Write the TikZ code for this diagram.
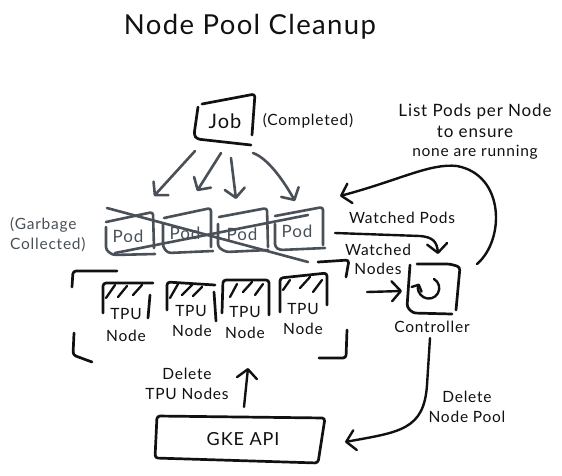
\documentclass[tikz,border=0pt]{standalone}
\usepackage{fontspec}
\setmainfont[LetterSpace=5]{Lato}
\usetikzlibrary{arrows.meta}
\definecolor{ink}{HTML}{111111}
\definecolor{slate}{HTML}{495057}
\tikzset{
  sk/.style={draw=ink,line width=2.7pt,line cap=round,line join=round,rounded corners=3pt},
  hatch/.style={draw=ink,line width=2.3pt,line cap=round},
  skgray/.style={draw=slate,line width=2.6pt,line cap=round,line join=round,rounded corners=3pt},
  arr/.style={draw=ink,line width=2.4pt,line cap=round,line join=round,-{Straight Barb[round,length=9pt,width=20pt,line width=2.4pt]}},
  arrgray/.style={draw=slate,line width=2.6pt,line cap=round,line join=round,-{Straight Barb[round,length=9pt,width=20pt,line width=2.6pt]}},
  lab/.style={text=ink,font=\fontsize{15.5}{15.5}\selectfont,inner sep=0pt,align=center},
  labgray/.style={lab,text=slate},
  lablarge/.style={lab,font=\fontsize{17}{17}\selectfont},
}
\begin{document}
\begin{tikzpicture}[x=1pt,y=-1pt]
\useasboundingbox (0,0) rectangle (562,475);
\fill[white] (0,0) rectangle (562,475);
% title
\node[lab,font=\fontsize{27.5}{27.5}\selectfont] (title) at (250,27) {Node Pool Cleanup};
% job
\node[lab,font=\fontsize{20}{20}\selectfont] (job) at (225,121) {Job};
\draw[sk] (202,104) -- (255,94) -- (252,135);
\draw[sk] (198,107) -- (194,135) -- (197,139) -- (251,145);
\node[lab] (completed) at (308,121) {(Completed)};
\coordinate (jobA) at (195,151); \coordinate (jobB) at (221,153);
\coordinate (jobC) at (231,158); \coordinate (jobD) at (253,153);
\coordinate (podA) at (154,196); \coordinate (podB) at (197,191);
\coordinate (podC) at (236,199); \coordinate (podD) at (295,201);
\draw[arrgray] (jobA) -- (podA);
\draw[arrgray] (jobB) -- (podB);
\draw[arrgray] (jobC) -- (podC);
\draw[arrgray] (jobD) .. controls (267,158) and (282,178) .. (podD);
% pods
\node[labgray,font=\fontsize{17}{17}\selectfont] (pod1) at (128,236) {Pod};
\node[labgray,font=\fontsize{17}{17}\selectfont] (pod2) at (185,233) {Pod};
\node[labgray,font=\fontsize{17}{17}\selectfont] (pod3) at (242,234) {Pod};
\node[labgray,font=\fontsize{17}{17}\selectfont] (pod4) at (297,231) {Pod};
\draw[skgray] (106,222) -- (153,212) -- (154,248);
\draw[skgray] (106,227) -- (106,250) -- (113,255) -- (155,254);
\draw[skgray] (164,218) -- (211,208) -- (211,247);
\draw[skgray] (163,224) -- (163,247) -- (168,253) -- (213,251);
\draw[skgray] (219,217) -- (267,208) -- (268,247);
\draw[skgray] (218,224) -- (218,247) -- (226,252) -- (268,250);
\draw[skgray] (275,216) -- (323,207) -- (323,245);
\draw[skgray] (275,224) -- (275,247) -- (280,250) -- (325,248);
\coordinate (crossA) at (107,208); \coordinate (crossB) at (308,262);
\coordinate (crossC) at (115,253); \coordinate (crossD) at (308,215);
\draw[skgray,rounded corners=0pt] (crossA) -- (crossB);
\draw[skgray,rounded corners=0pt] (crossC) -- (crossD);
\node[labgray,align=left,anchor=west] (garbage) at (10,234.5) {(Garbage\\[4pt]Collected)};
% outer brackets
\draw[sk] (72,287) -- (73,271) -- (117,271);
\draw[sk] (318,262) -- (349,260) -- (346,277);
\draw[sk] (74,333) -- (73,355) -- (92,362);
\draw[sk] (347,330) -- (346,358) -- (319,358);
% tpu nodes
\draw[sk] (103,313) -- (103,283) -- (153,283);
\draw[sk] (150,295) -- (148,318);
\draw[hatch] (106,298) -- (115,285) (118,297) -- (127,286) (133,295) -- (142,285);
\node[lab] (tpu1) at (126,314) {TPU};
\node[lab] (nd1) at (126,336) {Node};
\draw[sk] (167,310) -- (167,282) -- (215,285);
\draw[sk] (214,292) -- (216,321);
\draw[hatch] (170,298) -- (178,284) (182,295) -- (192,285) (193,296) -- (202,287);
\node[lab] (tpu2) at (191,311) {TPU};
\node[lab] (nd2) at (192,331) {Node};
\draw[sk] (222,313) -- (223,280) -- (269,280) -- (269,315);
\draw[hatch] (230,297) -- (237,284) (243,292) -- (252,282) (255,295) -- (263,284);
\node[lab] (tpu3) at (245,312) {TPU};
\node[lab] (nd3) at (245,333) {Node};
\draw[sk] (280,312) -- (280,278) -- (327,273) -- (327,305);
\draw[hatch] (283,290) -- (290,280) (300,288) -- (310,277) (313,292) -- (322,280);
\node[lab] (tpu4) at (303,309) {TPU};
\node[lab] (nd4) at (303,329) {Node};
% delete tpu
\node[lab] (deltpu) at (187,384) {Delete\\[4pt]TPU Nodes};
\coordinate (gkeTop) at (244,407); \coordinate (poolBot) at (248,368);
\draw[arr] (gkeTop) -- (poolBot);
% gke
\node[lab,font=\fontsize{18}{18}\selectfont] (gke) at (243,439) {GKE API};
\draw[sk] (157,416) -- (325,418) -- (318,463) -- (155,458) -- cycle;
% controller
\draw[sk] (417,264) -- (450,264) -- (460,267) -- (456,310);
\draw[sk] (410,265) -- (407,307) -- (413,313) -- (452,314);
\draw[draw=ink,line width=2.4pt,line cap=round,-{Straight Barb[round,length=5pt,width=11pt,line width=2.4pt]}] (434,279) arc[start angle=-60,end angle=205,radius=10.5];
\node[lab] (ctrl) at (432,327) {Controller};
\coordinate (ctrlIn) at (402,291); \coordinate (nodesOut) at (367,292);
\draw[arr] (nodesOut) -- (ctrlIn);
\coordinate (podsOut) at (335,233); \coordinate (ctrlTop) at (438,254);
\draw[arr] (podsOut) -- (420,236) .. controls (433,237) and (437,242) .. (ctrlTop);
\coordinate (ctrlOut) at (477,264); \coordinate (podsIn) at (340,196);
\draw[arr] (ctrlOut) .. controls (505,240) and (505,175) .. (457,166) .. controls (430,163) and (400,180) .. (podsIn);
\coordinate (ctrlBot) at (430,338); \coordinate (gkeIn) at (345,442);
\draw[arr] (ctrlBot) -- (427,385) .. controls (424,430) and (400,432) .. (gkeIn);
% labels
\node[lablarge] (list1) at (475,112) {List Pods per Node};
\node[lablarge] (list2) at (475,132) {to ensure};
\node[lab] (list3) at (475,152) {none are running};
\node[lab] (wp) at (402,218) {Watched Pods};
\node[lab] (wn) at (378,259.5) {Watched\\[4pt]Nodes};
\node[lab] (delp) at (467,407) {Delete\\[4pt]Node Pool};
\end{tikzpicture}
\end{document}
